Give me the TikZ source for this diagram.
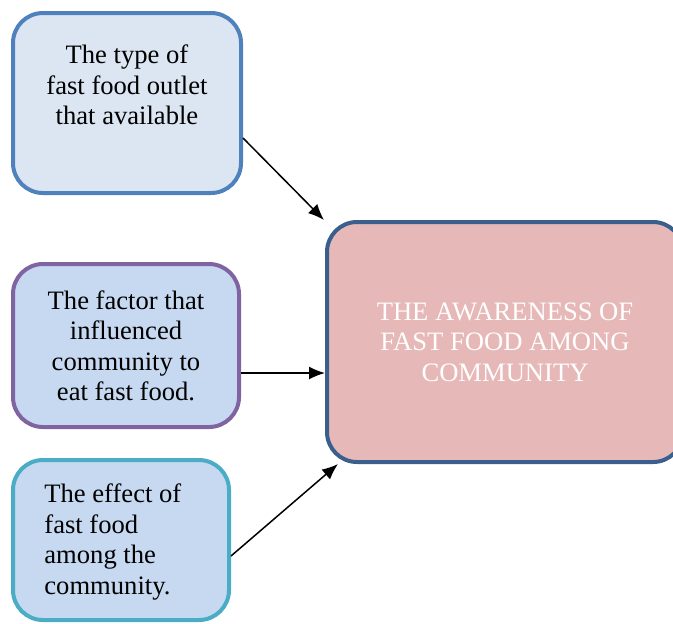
\documentclass[tikz,border=0pt]{standalone}
\usepackage{fontspec}
\setmainfont{Liberation Serif}
\usetikzlibrary{arrows.meta}
\definecolor{typeline}{HTML}{4F81BD}
\definecolor{typefill}{HTML}{DCE6F2}
\definecolor{factorline}{HTML}{8064A2}
\definecolor{effectline}{HTML}{4BACC6}
\definecolor{lightfill}{HTML}{C6D9F1}
\definecolor{awareline}{HTML}{3B5F8D}
\definecolor{awarefill}{HTML}{E6B9B8}
\begin{document}
\begin{tikzpicture}[
		x=0.5pt, y=-0.5pt,
		box/.style={rectangle,rounded corners=15pt,line width=2pt,inner sep=0pt},
		txt/.style={inner sep=0pt,font=\fontsize{13.3}{15.25}\selectfont},
		>={Latex[length=8pt,width=6.5pt]}]
	\path[use as bounding box,clip] (0,0) rectangle (673,623);
	%% define boxes
	\node (typeBox) at (127,103) [box,draw=typeline,fill=typefill,minimum width=114pt,minimum height=90pt] {};
	\node (factorBox) at (126,345.5) [box,draw=factorline,fill=lightfill,minimum width=113pt,minimum height=81.5pt] {};
	\node (effectBox) at (121,540) [box,draw=effectline,fill=lightfill,minimum width=108pt,minimum height=80pt] {};
	\node (awareBox) at (505,342) [box,draw=awareline,fill=awarefill,minimum width=178pt,minimum height=120pt] {};
	%% define texts
	\node (typeText) at (127,85) [txt,align=center] {The type of\\fast food outlet\\that available};
	\node (factorText) at (126,346) [txt,align=center] {The factor that\\influenced\\community to\\eat fast food.};
	\node (effectText) at (44,542) [txt,align=left,anchor=west] {The effect of\\fast food\\among the\\community.};
	\node (awareText) at (505,342) [txt,align=center,text=white] {THE AWARENESS OF\\FAST FOOD AMONG\\COMMUNITY};
	%% define arrows
	\draw[->,line width=0.75pt] ([yshift=-17.5pt]typeBox.east) -- ([xshift=-0.5pt]awareBox.north west);
	\draw[->,line width=0.75pt] ([yshift=-13.75pt]factorBox.east) -- ([yshift=-15.5pt]awareBox.west);
	\draw[->,line width=0.75pt] ([yshift=-8pt]effectBox.east) -- ([xshift=6.5pt]awareBox.south west);
\end{tikzpicture}
\end{document}
